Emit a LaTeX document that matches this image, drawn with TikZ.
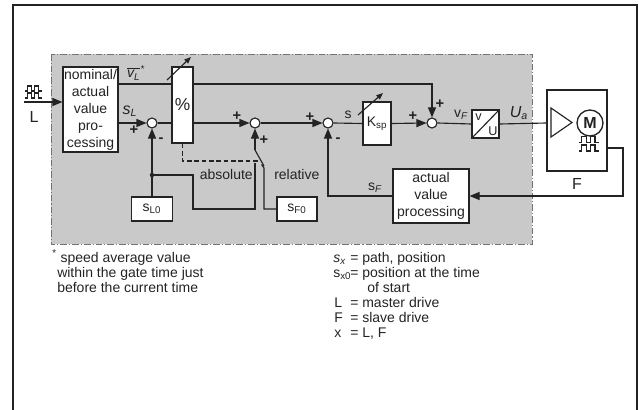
\documentclass[tikz,border=0pt]{standalone}
\usepackage{fontspec}
\setmainfont{Liberation Sans}
\usetikzlibrary{arrows.meta}
\definecolor{bg}{RGB}{201,201,201}
\definecolor{ln}{RGB}{35,35,35}
\begin{document}
\begin{tikzpicture}[x=0.75pt,y=-0.75pt,
  font=\fontsize{10.5}{12.75}\selectfont,
  wire/.style={draw=ln,line width=0.85pt},
  arr/.style={-{Triangle[length=7.5pt,width=6pt]}},
  sarr/.style={-{Triangle[length=5pt,width=4pt]}},
  blk/.style={draw=ln,fill=white,line width=0.85pt,inner sep=0pt,align=center,text=ln},
  sumpt/.style={circle,draw=ln,fill=white,line width=0.85pt,minimum size=7.5pt,inner sep=0pt},
  sgn/.style={font=\fontsize{11}{11}\selectfont\bfseries,inner sep=0pt,text=ln},
  lbl/.style={inner sep=0pt,text=ln},
  note/.style={inner sep=0pt,text=ln,anchor=base west},
  pulses/.pic={
    \draw[line width=0.9pt,ln] (-8.5,0) -- (-6,0) -- (-6,-5) -- (-2,-5) -- (-2,0) -- (1,0) -- (1,-5) -- (5,-5) -- (5,0) -- (8.5,0);
    \draw[line width=0.9pt,ln] (-8.5,7) -- (-6,7) -- (-6,2) -- (-2,2) -- (-2,7) -- (1,7) -- (1,2) -- (5,2) -- (5,7) -- (8.5,7);
  }
]
\useasboundingbox (0,0) rectangle (639,410);
% outer frame
\draw[line width=1.3pt,ln] (13,410) -- (13,5) -- (637,5) -- (637,410);
% grey controller area
\draw[fill=bg,draw=black!55,line width=0.6pt,dash pattern=on 5pt off 1.5pt on 0.8pt off 1.5pt] (51,54) rectangle (532,244);

% blocks
\node[blk,minimum width=41.25pt,minimum height=63.75pt] (nom) at (90.5,109.5) {nominal/\\actual\\value\\pro-\\cessing};
\node[blk,minimum width=15.75pt,minimum height=57pt,font=\fontsize{13}{13}\selectfont] (pct) at (182.5,105) {\%};
\node[blk,minimum width=30.75pt,minimum height=18pt] (sl0) at (152,209) {s\textsubscript{L0}};
\node[blk,minimum width=30pt,minimum height=18pt] (sf0) at (297,209) {s\textsubscript{F0}};
\node[blk,minimum width=21pt,minimum height=32.25pt] (ksp) at (377,123.5) {K\textsubscript{sp}};
\node[blk,minimum width=20.25pt,minimum height=21pt] (vu) at (485.5,124) {};
\node[blk,minimum width=45pt,minimum height=60.75pt] (mot) at (577,130.5) {};
\node[blk,minimum width=57pt,minimum height=40.5pt] (act) at (431,196) {actual\\value\\processing};

% summing points
\node[sumpt] (c1) at (152,123) {};
\node[sumpt] (c2) at (255,123) {};
\node[sumpt] (c3) at (328,123) {};
\node[sumpt] (c4) at (432,123) {};

% helper coordinates
\coordinate (uy) at (0,84);
\coordinate (ly) at (0,123);
\coordinate (in0) at (24,102);
\coordinate (dot) at (152,175);
\coordinate (a1) at (193,175);
\coordinate (a2) at (193,209);
\coordinate (a3) at (255,209);
\coordinate (abs) at (255,163);
\coordinate (piv) at (255,150);
\coordinate (bl) at (264,166);
\coordinate (rtick) at (261.5,164.5);
\coordinate (rel) at (264,168);
\coordinate (dsh) at (182.5,161);
\coordinate (dend) at (260,161);
\coordinate (fb1) at (623,148);
\coordinate (fb2) at (623,196);

% input
\pic at (33.5,91) {pulses};
\draw[wire,arr] (in0) -- (in0 -| nom.west);
\node[lbl,font=\fontsize{12}{12}\selectfont] (Lin) at (34,117) {L};

% upper path (average speed)
\draw[wire] (nom.east |- uy) -- (pct.west |- uy);
\draw[wire,arr] (pct.east |- uy) -- (c4 |- uy) -- (c4.north);

% main path
\draw[wire,arr] (nom.east |- ly) -- (c1.west);
\draw[wire] (c1.east) -- (pct.west |- ly);
\draw[wire,arr] (pct.east |- ly) -- (c2.west);
\draw[wire,arr] (c2.east) -- (c3.west);
\draw[wire] (c3.east) -- (ksp.west);
\draw[wire,arr] (ksp.east) -- (c4.west);
\draw[wire] (c4.east) -- (vu.west);
\draw[wire] (vu.east) -- (mot.west |- ly);

% start positions and switch
\draw[wire,arr] (sl0.north) -- (c1.south);
\fill[ln] (dot) circle (2.2);
\draw[wire] (dot) -- (a1) -- (a2) -- (a3) -- (abs);
\draw[wire,arr] (piv) -- (c2.south);
\draw[wire] (piv) -- (bl);
\draw[wire] (rtick) -- (rel) -- (rel |- sf0.west) -- (sf0.west);
\draw[wire,dash pattern=on 3.5pt off 2pt] (pct.south) -- (dsh) -- (dend);

% feedback
\draw[wire,arr] (act.west) -- (act.west -| c3) -- (c3.south);
\draw[wire,arr] (mot.east |- fb1) -- (fb1) -- (fb2) -- (act.east);

% adjustable arrows
\draw[wire,sarr] (167,80) -- (191,57);
\draw[wire,sarr] (358,115) -- (383,93);

% v/U converter
\draw[wire] (vu.south west) -- (vu.north east);
\node[lbl,font=\fontsize{9.5}{9.5}\selectfont] at (478.5,117) {v};
\node[lbl,font=\fontsize{9.5}{9.5}\selectfont] at (493,131.5) {U};

% motor
\draw[wire] (551,108) -- (572,122.5) -- (551,137) -- cycle;
\node[circle,draw=ln,line width=1pt,minimum size=19.5pt,inner sep=0pt,text=ln,font=\bfseries\fontsize{12}{12}\selectfont] (mm) at (590,123) {M};
\pic[scale=1.2] at (589,142.5) {pulses};
\node[lbl,font=\fontsize{12}{12}\selectfont] (Fm) at (577,184) {F};

% labels
\node[lbl] at (136,73) {\itshape$\overline{\hbox{v\textsubscript{L}}}$\textsuperscript{*}};
\node[lbl,font=\fontsize{12}{12}\selectfont] at (130,111) {\itshape s\textsubscript{L}};
\node[lbl] at (348,115) {s};
\node[lbl] at (375,188) {s\textsubscript{\itshape F}};
\node[lbl] at (461,115) {v\textsubscript{\itshape F}};
\node[lbl,font=\fontsize{12}{12}\selectfont] at (519,113) {\itshape U\textsubscript{a}};
\node[lbl,anchor=east] at (253,174) {absolute};
\node[lbl,anchor=west] at (274,174) {relative};

% signs
\node[sgn] at (134,130) {+};
\node[sgn] at (161,140) {-};
\node[sgn] at (237,116) {+};
\node[sgn] at (264,140) {+};
\node[sgn] at (310,117) {+};
\node[sgn] at (338,140) {-};
\node[sgn] at (413,116) {+};
\node[sgn] at (440,104) {+};

% notes
\node[note] at (52,262) {\textsuperscript{*} speed average value};
\node[note] at (57,277) {within the gate time just};
\node[note] at (57,292) {before the current time};

\node[note] at (333,262) {\itshape s\textsubscript{x}};
\node[note] at (333,277) {s\textsubscript{x0}};
\node[note] at (334,307) {L};
\node[note] at (334,322) {F};
\node[note] at (334,337) {x};
\node[note] at (350,262) {= path, position};
\node[note] at (350,277) {= position at the time};
\node[note] at (367,292) {of start};
\node[note] at (350,307) {= master drive};
\node[note] at (350,322) {= slave drive};
\node[note] at (350,337) {= L, F};
\end{tikzpicture}
\end{document}
